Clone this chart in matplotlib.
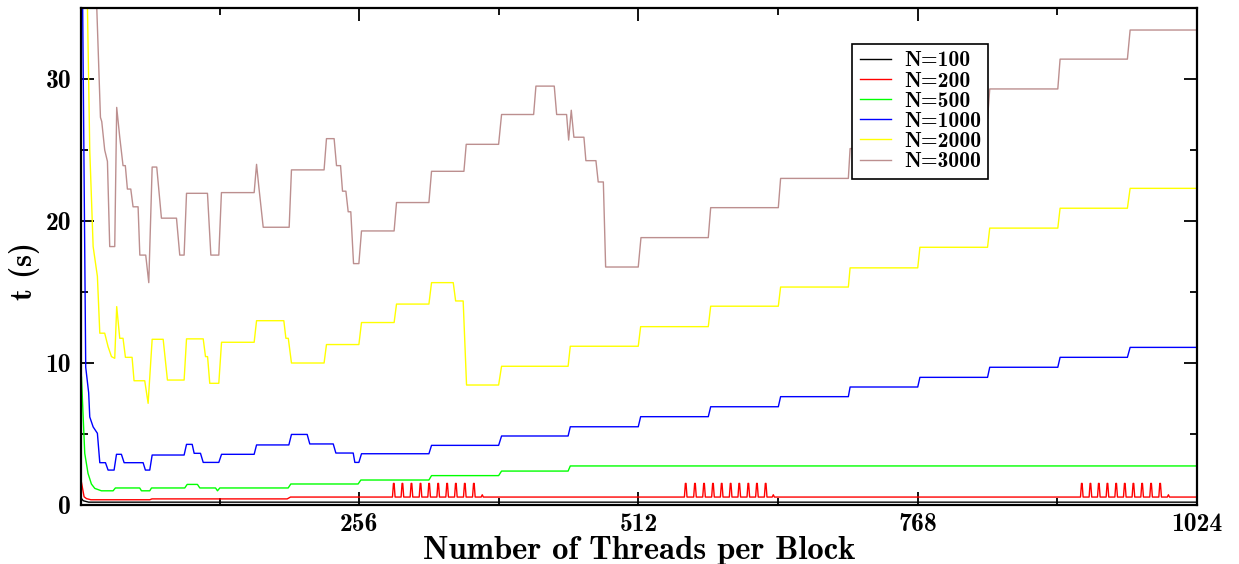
import matplotlib
matplotlib.use("Agg")
import matplotlib.pyplot as plt
from matplotlib.ticker import FixedLocator

plt.rcParams['font.family'] = ['cmb10', 'DejaVu Serif']
plt.rcParams['axes.unicode_minus'] = False

# (threads per block, time in s) corners
n100 = [(1, 0.5), (3, 0.3), (8, 0.2), (1024, 0.2)]

n200_base = [(1, 1.76), (3.8, 0.58), (6, 0.45), (10, 0.37), (64, 0.37), (66, 0.43),
             (190, 0.43), (193, 0.56), (1024, 0.56)]
n200_spikes = [287.7, 295.6, 303.9, 312.2, 320.1, 328.4, 336.6, 344.6, 352.8, 361.1,
               555.3, 563.8, 572.1, 580.3, 588.3, 596.5, 604.4, 612.7, 620.6, 628.6,
               918.4, 926.3, 934.0, 941.9, 949.9, 957.8, 965.7, 973.7, 981.9, 990.2]
n200_blips = [368.8, 635.6, 997.8]
spike_top = 1.52
blip_top = 0.72

n500 = [(1, 9.3), (1.4, 9.0), (4.4, 3.64), (7.4, 2.23), (10.5, 1.48), (13.6, 1.17),
        (19.7, 1.0), (30.4, 1.0), (32.5, 1.2), (54.8, 1.2), (56.4, 1.0), (64, 1.0),
        (65.6, 1.2), (96.1, 1.2), (98.3, 1.45), (107.7, 1.45), (109.9, 1.2), (124.3, 1.2),
        (126.1, 1.0), (128.2, 1.2), (190.9, 1.2), (193.3, 1.48), (255, 1.48), (257.5, 1.76),
        (319.9, 1.76), (322.3, 2.07), (383.8, 2.07), (386.5, 2.39), (447.5, 2.39),
        (449.5, 2.75), (1024, 2.75)]

n1000 = [(1, 80), (2.5, 35), (5.3, 9.7), (8, 7.9), (9, 6.2), (12.1, 5.5), (16, 5.05),
         (18.2, 2.98), (23.4, 2.98), (25.8, 2.46), (31.3, 2.46), (33.5, 3.57), (38, 3.57),
         (40.5, 2.98), (57.9, 2.98), (60, 2.46), (64, 2.46), (66.2, 3.52), (95.5, 3.52),
         (97.7, 4.27), (102.9, 4.27), (104.7, 3.64), (110.5, 3.64), (113, 3.0), (127.3, 3.0),
         (129.8, 3.57), (159.7, 3.57), (161.9, 4.23), (191.5, 4.23), (193.9, 4.97),
         (208.3, 4.97), (210.7, 4.3), (232.2, 4.3), (234.6, 3.66), (250.5, 3.66), (252, 3.0),
         (255.7, 3.0), (258.1, 3.61), (319.9, 3.61), (322.3, 4.2), (383.8, 4.2), (386.5, 4.86),
         (447.5, 4.86), (449.5, 5.51), (511.8, 5.51), (514, 6.22), (576, 6.22), (578.2, 6.92),
         (640.2, 6.92), (642.3, 7.63), (704.4, 7.63), (706, 8.31), (768, 8.31), (770, 8.99),
         (832, 8.99), (834, 9.70), (896.4, 9.70), (898.5, 10.4), (960.2, 10.4),
         (962.7, 11.1), (1024, 11.1)]

n2000 = [(1, 120), (6.9, 35), (9, 25), (12.1, 18.2), (16, 16.1), (18.2, 12.1), (22.7, 12.1),
         (25.8, 11.15), (28.9, 10.45), (31.9, 10.33), (33.7, 13.97), (36.5, 11.74),
         (39.5, 11.74), (41.7, 10.4), (47.8, 10.4), (49.6, 8.75), (59.4, 8.75), (62.5, 7.16),
         (66.2, 11.67), (76.3, 11.67), (80.2, 8.8), (95.5, 8.8), (97.7, 11.7), (113, 11.7),
         (115.1, 10.45), (117, 10.45), (119, 8.57), (127.3, 8.57), (129.8, 11.46),
         (159.7, 11.46), (161.9, 12.98), (186.9, 12.98), (188.8, 11.74), (191, 11.74),
         (193.9, 10.0), (223.8, 10.0), (226, 11.3), (255.7, 11.3), (258.1, 12.85),
         (288, 12.85), (290.2, 14.15), (319.9, 14.15), (322.3, 15.66), (342.2, 15.66),
         (344.4, 14.37), (351.3, 14.37), (354.4, 8.45), (383.8, 8.45), (386.5, 9.77),
         (447.5, 9.77), (449.5, 11.18), (511.8, 11.18), (514, 12.56), (576, 12.56),
         (578.2, 14.0), (640.2, 14.0), (642.3, 15.35), (704.4, 15.35), (706, 16.7),
         (768, 16.7), (770, 18.15), (832, 18.15), (834, 19.5), (896.4, 19.5), (898.5, 20.9),
         (960.2, 20.9), (962.7, 22.3), (1024, 22.3)]

n3000 = [(1, 120), (15, 36), (18.8, 27.3), (20, 27.0), (22.7, 25.0), (25.2, 24.2),
         (27.3, 18.2), (31.9, 18.2), (33.7, 28.0), (36.5, 25.9), (39.5, 23.9), (41.6, 23.9),
         (43.5, 22.25), (46.6, 22.25), (48.7, 21.0), (53.3, 21.0), (54.9, 17.6), (60.3, 17.6),
         (63.1, 15.66), (66.2, 23.8), (70.4, 23.8), (74.7, 20.2), (88.5, 20.2), (91.5, 17.6),
         (95.5, 17.6), (97.7, 21.95), (116.9, 21.95), (120, 17.6), (127.3, 17.6),
         (129.7, 22.0), (159.7, 22.0), (161.9, 23.99), (164, 22.4), (168, 19.56),
         (191.8, 19.56), (193.9, 23.6), (223.8, 23.6), (226, 25.8), (233, 25.8),
         (235.2, 23.9), (238.9, 23.9), (240.7, 22.1), (243.8, 22.1), (245.9, 20.65),
         (248.3, 20.65), (250.8, 17.0), (255.7, 17.0), (258.1, 19.3), (288, 19.3),
         (290.2, 21.3), (319.9, 21.3), (322.3, 23.5), (352, 23.5), (354.1, 25.4),
         (383.8, 25.4), (386.5, 27.5), (415.9, 27.5), (418, 29.5), (434.8, 29.5),
         (437, 27.5), (446.1, 27.5), (448, 25.7), (450.4, 27.8), (452.8, 25.9), (462, 25.9),
         (463.8, 24.25), (473, 24.25), (475.1, 22.75), (479.8, 22.75), (481.9, 16.76),
         (511.8, 16.76), (514.3, 18.83), (576, 18.83), (578.2, 20.94), (640.2, 20.94),
         (642.3, 23.0), (704.4, 23.0), (706, 25.1), (768, 25.1), (770, 27.2), (832, 27.2),
         (834, 29.3), (896.4, 29.3), (898.5, 31.4), (960.2, 31.4), (962.7, 33.45),
         (1024, 33.45)]

labels = ['N=100', 'N=200', 'N=500', 'N=1000', 'N=2000', 'N=3000']
colors = ['black', '#ff0000', '#00ff00', '#0000ff', '#ffff00', '#bc8f8f']


def with_spikes(base, spikes, top, blips, btop):
    # red curve: flat baseline with narrow peaks added at the listed positions
    pts = list(base)
    for c in spikes:
        pts += [(c - 1.2, None), (c - 0.3, top), (c + 0.3, top), (c + 1.2, None)]
    for c in blips:
        pts += [(c - 1.0, None), (c, btop), (c + 1.0, None)]
    pts.sort(key=lambda p: p[0])
    out = []
    for x, y in pts:
        if y is None:
            y = [by for bx, by in base if bx <= x][-1]
        out.append((x, y))
    return out


n200 = with_spikes(n200_base, n200_spikes, spike_top, n200_blips, blip_top)
series = [n100, n200, n500, n1000, n2000, n3000]

fig = plt.figure(figsize=(12.39, 5.64), dpi=100)
ax = fig.add_axes([0.0654, 0.1046, 0.9007, 0.8812])

for pts, lab, col in zip(series, labels, colors):
    xs = [p[0] for p in pts]
    ys = [p[1] for p in pts]
    ax.plot(xs, ys, color=col, lw=1.0, label=lab)

ax.set_xlim(1, 1024)
ax.set_ylim(0, 35)

ax.xaxis.set_major_locator(FixedLocator([256, 512, 768, 1024]))
ax.xaxis.set_minor_locator(FixedLocator([128, 384, 640, 896]))
ax.yaxis.set_major_locator(FixedLocator([0, 10, 20, 30]))
ax.yaxis.set_minor_locator(FixedLocator([5, 15, 25]))

ax.tick_params(which='both', direction='in', top=True, right=True, width=1.3)
ax.tick_params(which='major', length=9.5)
ax.tick_params(which='minor', length=5)
ax.tick_params(axis='x', which='major', labelsize=18.5, pad=6)
ax.tick_params(axis='y', which='major', labelsize=18.5, pad=7)
for s in ax.spines.values():
    s.set_linewidth(1.6)

ax.set_xlabel('Number of Threads per Block', fontsize=23.5, labelpad=0)
ax.set_ylabel('t (s)', fontsize=22)
ax.yaxis.set_label_coords(-0.037, 0.47)

leg = ax.legend(loc='upper left', bbox_to_anchor=(0.691, 0.928), fontsize=15.5,
                frameon=True, fancybox=False, framealpha=1, edgecolor='black',
                borderaxespad=0, borderpad=0.35, labelspacing=0.05, handlelength=1.45,
                handletextpad=0.6)
leg.get_frame().set_linewidth(1.2)

fig.savefig('out.png', dpi=100)
